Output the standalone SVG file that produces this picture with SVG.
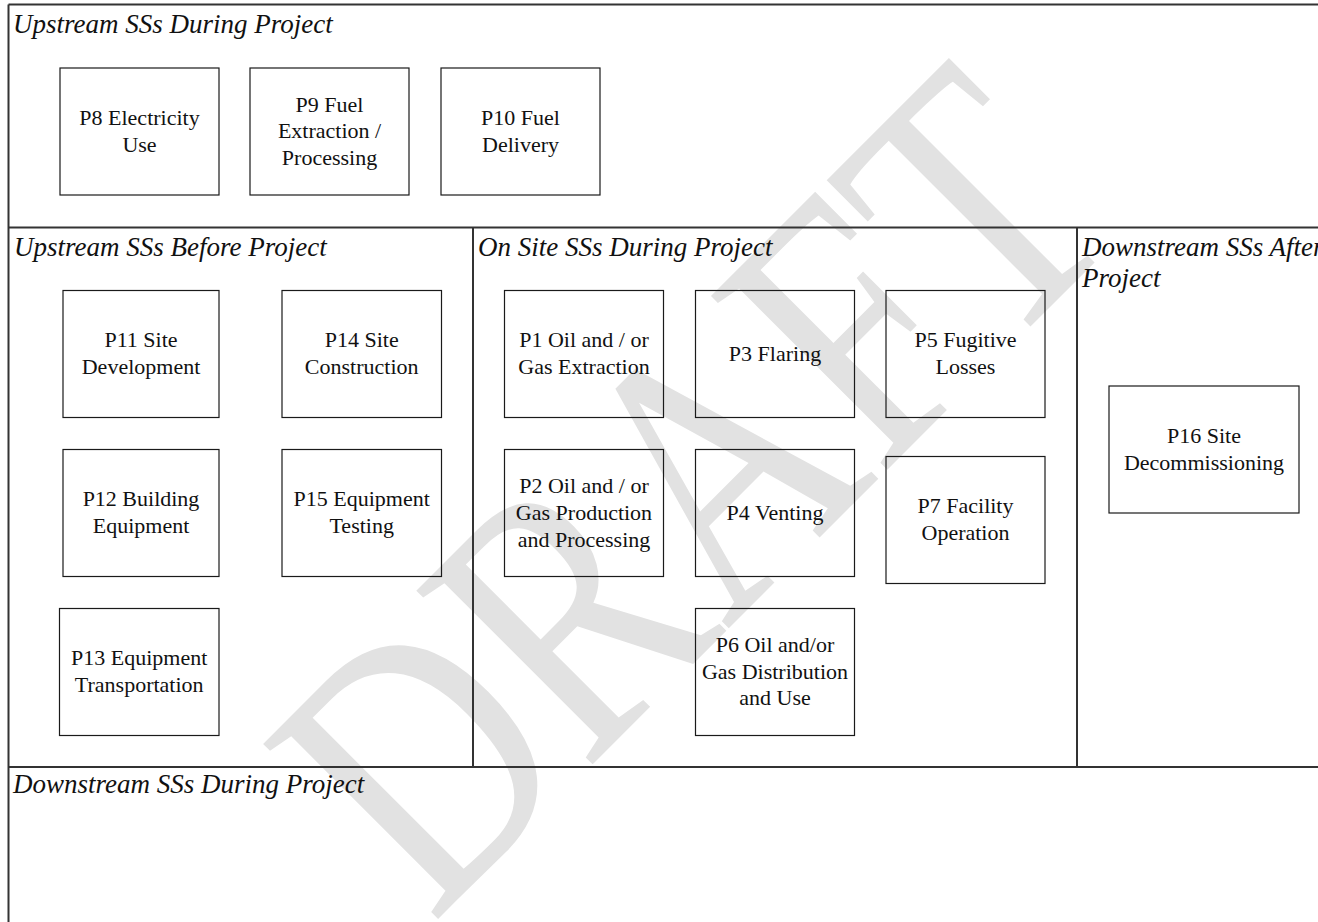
<svg xmlns="http://www.w3.org/2000/svg" width="1318" height="922" viewBox="0 0 1318 922">
<style>
.bg{fill:#ffffff}
.wm{font-family:"Liberation Serif","Times New Roman",serif;font-size:300px;fill:#e2e2e2}
.lane{stroke:#333333;stroke-width:2;fill:none}
.title{font-family:"Liberation Serif","Times New Roman",serif;font-style:italic;font-size:27px;fill:#111111}
.box{fill:none;stroke:#1a1a1a;stroke-width:1.2}
.lbl{font-family:"Liberation Serif","Times New Roman",serif;font-size:22px;fill:#111111;text-anchor:middle}
</style>
<rect class="bg" x="0" y="0" width="1318" height="922"/>
<g id="watermark">
<text class="wm" transform="translate(432,925) rotate(-45) scale(1,1.26)" x="0" y="0">DRAFT</text>
</g>
<g id="lanes">
<line class="lane" x1="8.5" y1="4.5" x2="1318" y2="4.5"/>
<line class="lane" x1="8.5" y1="4.5" x2="8.5" y2="922"/>
<line class="lane" x1="8.5" y1="227.5" x2="1318" y2="227.5"/>
<line class="lane" x1="8.5" y1="767" x2="1318" y2="767"/>
<line class="lane" x1="473" y1="227.5" x2="473" y2="767"/>
<line class="lane" x1="1077" y1="227.5" x2="1077" y2="767"/>
<text class="title" x="13" y="33">Upstream SSs During Project</text>
<text class="title" x="14" y="256">Upstream SSs Before Project</text>
<text class="title" x="478" y="256">On Site SSs During Project</text>
<text class="title" x="1082" y="256">Downstream SSs After</text>
<text class="title" x="1082" y="287">Project</text>
<text class="title" x="13" y="793">Downstream SSs During Project</text>
</g>
<g id="connectors"></g>
<g id="P8"><rect class="box" x="60" y="68" width="159" height="127"/><text class="lbl" x="139.5" y="125">P8 Electricity</text><text class="lbl" x="139.5" y="151.7">Use</text></g>
<g id="P9"><rect class="box" x="250" y="68" width="159" height="127"/><text class="lbl" x="329.5" y="111.6">P9 Fuel</text><text class="lbl" x="329.5" y="138.3">Extraction /</text><text class="lbl" x="329.5" y="165">Processing</text></g>
<g id="P10"><rect class="box" x="441" y="68" width="159" height="127"/><text class="lbl" x="520.5" y="125">P10 Fuel</text><text class="lbl" x="520.5" y="151.7">Delivery</text></g>
<g id="P11"><rect class="box" x="63" y="290.5" width="156" height="127"/><text class="lbl" x="141" y="347.3">P11 Site</text><text class="lbl" x="141" y="374">Development</text></g>
<g id="P14"><rect class="box" x="282" y="290.5" width="159.5" height="127"/><text class="lbl" x="361.7" y="347.3">P14 Site</text><text class="lbl" x="361.7" y="374">Construction</text></g>
<g id="P12"><rect class="box" x="63" y="449.5" width="156" height="127"/><text class="lbl" x="141" y="506.3">P12 Building</text><text class="lbl" x="141" y="533">Equipment</text></g>
<g id="P15"><rect class="box" x="282" y="449.5" width="159.5" height="127"/><text class="lbl" x="361.7" y="506.3">P15 Equipment</text><text class="lbl" x="361.7" y="533">Testing</text></g>
<g id="P13"><rect class="box" x="59.5" y="608.5" width="159.5" height="127"/><text class="lbl" x="139.2" y="665.3">P13 Equipment</text><text class="lbl" x="139.2" y="692">Transportation</text></g>
<g id="P1"><rect class="box" x="504.5" y="290.5" width="159" height="127"/><text class="lbl" x="584" y="347.3">P1 Oil and / or</text><text class="lbl" x="584" y="374">Gas Extraction</text></g>
<g id="P3"><rect class="box" x="695.5" y="290.5" width="159" height="127"/><text class="lbl" x="775" y="360.8">P3 Flaring</text></g>
<g id="P5"><rect class="box" x="886" y="290.5" width="159" height="127"/><text class="lbl" x="965.5" y="347.3">P5 Fugitive</text><text class="lbl" x="965.5" y="374">Losses</text></g>
<g id="P2"><rect class="box" x="504.5" y="449.5" width="159" height="127"/><text class="lbl" x="584" y="493.3">P2 Oil and / or</text><text class="lbl" x="584" y="520">Gas Production</text><text class="lbl" x="584" y="546.7">and Processing</text></g>
<g id="P4"><rect class="box" x="695.5" y="449.5" width="159" height="127"/><text class="lbl" x="775" y="519.8">P4 Venting</text></g>
<g id="P7"><rect class="box" x="886" y="456.5" width="159" height="127"/><text class="lbl" x="965.5" y="513.3">P7 Facility</text><text class="lbl" x="965.5" y="540">Operation</text></g>
<g id="P6"><rect class="box" x="695.5" y="608.5" width="159" height="127"/><text class="lbl" x="775" y="652">P6 Oil and/or</text><text class="lbl" x="775" y="678.7">Gas Distribution</text><text class="lbl" x="775" y="705.4">and Use</text></g>
<g id="P16"><rect class="box" x="1109" y="386" width="190" height="127"/><text class="lbl" x="1204" y="442.8">P16 Site</text><text class="lbl" x="1204" y="469.5">Decommissioning</text></g>
</svg>
